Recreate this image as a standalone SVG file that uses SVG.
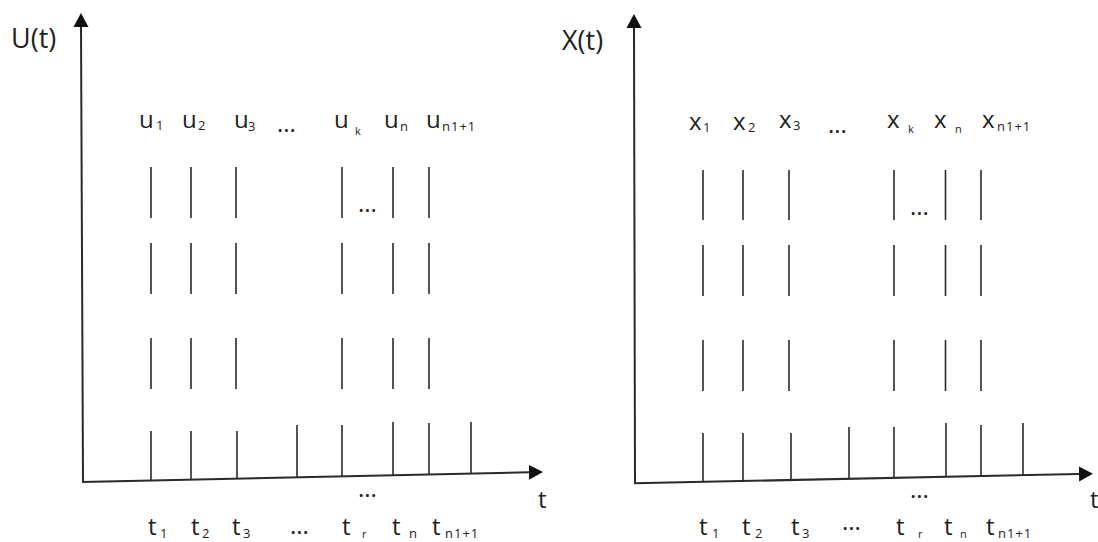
<svg xmlns="http://www.w3.org/2000/svg" width="1098" height="542" viewBox="0 0 1098 542">
<style>
text{font-family:"Open Sans","Liberation Sans",sans-serif;fill:#222}
.lbl{font-size:24px}
.sub{font-size:13px}
.wide{letter-spacing:1px}
.sm{font-size:11px}
.title{font-size:27px}
.axl{font-size:24px}
.axis{stroke:#2a2a2a;stroke-width:2;fill:none}
.tick{stroke:#2a2a2a;stroke-width:1.6}
</style>
<defs>
<marker id="arr" markerUnits="userSpaceOnUse" markerWidth="15" markerHeight="16" refX="0" refY="7.5" orient="auto">
<path d="M0,0 L14,7.5 L0,15 z" fill="#111"/>
</marker>
</defs>
<rect width="1098" height="542" fill="#fff"/>

<g id="connectors">
<line class="axis" x1="83" y1="482" x2="81" y2="27" marker-end="url(#arr)"/>
<line class="axis" x1="82" y1="482" x2="529" y2="472.3" marker-end="url(#arr)"/>
<line class="axis" x1="635" y1="483.3" x2="634" y2="28" marker-end="url(#arr)"/>
<line class="axis" x1="634" y1="483.3" x2="1079" y2="474" marker-end="url(#arr)"/>
</g>

<g id="left-panel">
<g id="left-ticks" class="tick">
<line x1="151" y1="167" x2="151" y2="218"/><line x1="191" y1="167" x2="191" y2="218"/><line x1="236" y1="167" x2="236" y2="218"/><line x1="342" y1="167" x2="342" y2="218"/><line x1="393" y1="167" x2="393" y2="218"/><line x1="429" y1="167" x2="429" y2="218"/>
<line x1="151" y1="243" x2="151" y2="294"/><line x1="191" y1="243" x2="191" y2="294"/><line x1="236" y1="243" x2="236" y2="294"/><line x1="342" y1="243" x2="342" y2="294"/><line x1="393" y1="243" x2="393" y2="294"/><line x1="429" y1="243" x2="429" y2="294"/>
<line x1="151" y1="338" x2="151" y2="389"/><line x1="191" y1="338" x2="191" y2="389"/><line x1="236" y1="338" x2="236" y2="389"/><line x1="342" y1="338" x2="342" y2="389"/><line x1="393" y1="338" x2="393" y2="389"/><line x1="429" y1="338" x2="429" y2="389"/>
<line x1="151" y1="431" x2="151" y2="480.5"/><line x1="191" y1="431" x2="191" y2="479.7"/><line x1="237" y1="431" x2="237" y2="478.7"/><line x1="297" y1="425" x2="297" y2="477.3"/><line x1="342" y1="425" x2="342" y2="476.4"/><line x1="393" y1="422" x2="393" y2="475.3"/><line x1="429" y1="423" x2="429" y2="474.5"/><line x1="471" y1="422" x2="471" y2="473.6"/>
</g>
<text id="left-title" class="title" x="11" y="48">U(t)</text>
<g id="left-top-labels">
<text class="lbl" x="139" y="128">u<tspan class="sub" x="156" y="130">1</tspan></text>
<text class="lbl" x="182" y="128">u<tspan class="sub" x="198" y="130">2</tspan></text>
<text class="lbl" x="234" y="128">u<tspan class="sub" x="248" y="131">3</tspan></text>
<text class="lbl" x="277" y="132">...</text>
<text class="lbl" x="334" y="128">u<tspan class="sm" x="355" y="135">k</tspan></text>
<text class="lbl" x="384" y="128">u<tspan class="sub" x="400" y="131">n</tspan></text>
<text class="lbl" x="426" y="128">u<tspan class="sub wide" x="442" y="131">n1+1</tspan></text>
<text class="lbl" x="358" y="212">...</text>
</g>
<g id="left-bottom-labels">
<text class="lbl" x="148" y="535">t<tspan class="sub" x="160" y="538">1</tspan></text>
<text class="lbl" x="191" y="535">t<tspan class="sub" x="202" y="538">2</tspan></text>
<text class="lbl" x="232" y="535">t<tspan class="sub" x="243" y="538">3</tspan></text>
<text class="lbl" x="290" y="534">...</text>
<text class="lbl" x="358" y="497">...</text>
<text class="lbl" x="342" y="535">t<tspan class="sm" x="362" y="538">r</tspan></text>
<text class="lbl" x="392" y="535">t<tspan class="sub" x="409" y="538">n</tspan></text>
<text class="lbl" x="432" y="535">t<tspan class="sub wide" x="445" y="538">n1+1</tspan></text>
<text class="axl" x="538" y="508">t</text>
</g>
</g>

<g id="right-panel">
<g id="right-ticks" class="tick">
<line x1="703" y1="170" x2="703" y2="220"/><line x1="743" y1="170" x2="743" y2="220"/><line x1="789" y1="170" x2="789" y2="220"/><line x1="894" y1="170" x2="894" y2="220"/><line x1="945.5" y1="170" x2="945.5" y2="220"/><line x1="981" y1="170" x2="981" y2="220"/>
<line x1="703" y1="245" x2="703" y2="296"/><line x1="743" y1="245" x2="743" y2="296"/><line x1="789" y1="245" x2="789" y2="296"/><line x1="894" y1="245" x2="894" y2="296"/><line x1="945.5" y1="245" x2="945.5" y2="296"/><line x1="981" y1="245" x2="981" y2="296"/>
<line x1="703" y1="340" x2="703" y2="391"/><line x1="743" y1="340" x2="743" y2="391"/><line x1="789" y1="340" x2="789" y2="391"/><line x1="894" y1="340" x2="894" y2="391"/><line x1="945.5" y1="340" x2="945.5" y2="391"/><line x1="981" y1="340" x2="981" y2="391"/>
<line x1="703" y1="433" x2="703" y2="481.9"/><line x1="743" y1="433" x2="743" y2="481"/><line x1="791" y1="433" x2="791" y2="480"/><line x1="849" y1="427" x2="849" y2="478.8"/><line x1="894" y1="427" x2="894" y2="477.9"/><line x1="946" y1="423" x2="946" y2="476.8"/><line x1="981" y1="425" x2="981" y2="476"/><line x1="1023" y1="423" x2="1023" y2="475.2"/>
</g>
<text id="right-title" class="title" x="562" y="50">X(t)</text>
<g id="right-top-labels">
<text class="lbl" x="689" y="130">x<tspan class="sub" x="703" y="132">1</tspan></text>
<text class="lbl" x="733" y="130">x<tspan class="sub" x="748" y="132">2</tspan></text>
<text class="lbl" x="779" y="128">x<tspan class="sub" x="793" y="130">3</tspan></text>
<text class="lbl" x="828" y="133">...</text>
<text class="lbl" x="887" y="128">x<tspan class="sm" x="908" y="133">k</tspan></text>
<text class="lbl" x="934" y="128">x<tspan class="sm" x="955" y="133">n</tspan></text>
<text class="lbl" x="982" y="128">x<tspan class="sub wide" x="997" y="131">n1+1</tspan></text>
<text class="lbl" x="910" y="215">...</text>
</g>
<g id="right-bottom-labels">
<text class="lbl" x="699" y="535">t<tspan class="sub" x="712" y="538">1</tspan></text>
<text class="lbl" x="742" y="535">t<tspan class="sub" x="755" y="538">2</tspan></text>
<text class="lbl" x="791" y="535">t<tspan class="sub" x="802" y="538">3</tspan></text>
<text class="lbl" x="842" y="530">...</text>
<text class="lbl" x="910" y="498">...</text>
<text class="lbl" x="896" y="535">t<tspan class="sm" x="918" y="538">r</tspan></text>
<text class="lbl" x="944" y="535">t<tspan class="sm" x="960" y="538">n</tspan></text>
<text class="lbl" x="986" y="535">t<tspan class="sub wide" x="998" y="538">n1+1</tspan></text>
<text class="axl" x="1090" y="508">t</text>
</g>
</g>
</svg>
